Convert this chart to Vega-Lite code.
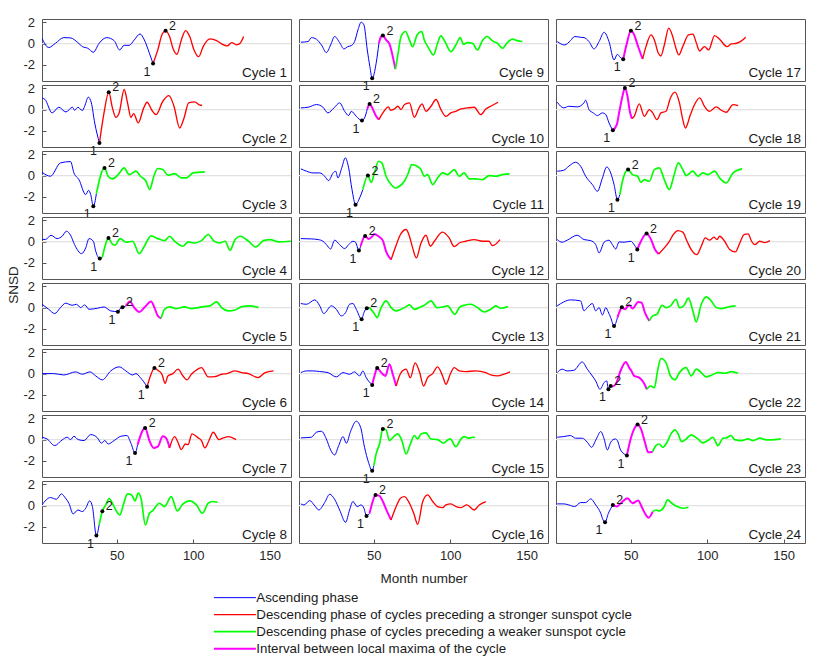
{
"$schema": "https://vega.github.io/schema/vega-lite/v6.json",
"background": "white",
"bounds": "flush",
"padding": {"left": 6, "top": 16, "right": 5, "bottom": 5},
"data": {"values": [
{"c":1,"s":"A","m":1,"v":0.5},{"c":1,"s":"A","m":5.4,"v":-0.37},{"c":1,"s":"A","m":9.8,"v":0.03},{"c":1,"s":"A","m":15.3,"v":0.56},{"c":1,"s":"A","m":19.7,"v":0.53},{"c":1,"s":"A","m":24.5,"v":0.09},{"c":1,"s":"A","m":27.4,"v":-0.28},{"c":1,"s":"A","m":31,"v":-0.44},{"c":1,"s":"A","m":34.6,"v":-0.81},{"c":1,"s":"A","m":38.4,"v":0.03},{"c":1,"s":"A","m":43.4,"v":0.56},{"c":1,"s":"A","m":48.2,"v":0.28},{"c":1,"s":"A","m":51.8,"v":-0.59},{"c":1,"s":"A","m":54.8,"v":-0.16},{"c":1,"s":"A","m":58.1,"v":-0.16},{"c":1,"s":"A","m":61.4,"v":0.34},{"c":1,"s":"A","m":65.2,"v":0.9},{"c":1,"s":"A","m":68,"v":0.34},{"c":1,"s":"A","m":71.3,"v":-0.9},{"c":1,"s":"A","m":73.7,"v":-1.87},
{"c":1,"s":"R","m":73.7,"v":-1.87},{"c":1,"s":"R","m":76.8,"v":-0.59},{"c":1,"s":"R","m":79.7,"v":0.9},{"c":1,"s":"R","m":81.9,"v":1.19},{"c":1,"s":"R","m":84.5,"v":0.66},{"c":1,"s":"R","m":86.7,"v":-0.44},{"c":1,"s":"R","m":89.3,"v":-1},{"c":1,"s":"R","m":92.2,"v":0.34},{"c":1,"s":"R","m":95,"v":1.22},{"c":1,"s":"R","m":97.7,"v":0.66},{"c":1,"s":"R","m":100.5,"v":-0.59},{"c":1,"s":"R","m":103.6,"v":-1.22},{"c":1,"s":"R","m":106.5,"v":-0.28},{"c":1,"s":"R","m":110.9,"v":0.44},{"c":1,"s":"R","m":115.3,"v":0.28},{"c":1,"s":"R","m":118.6,"v":-0.03},{"c":1,"s":"R","m":122.3,"v":-0.22},{"c":1,"s":"R","m":125.2,"v":0.09},{"c":1,"s":"R","m":128.5,"v":-0.12},{"c":1,"s":"R","m":130.7,"v":0.03},{"c":1,"s":"R","m":133,"v":0.66},
{"c":1,"s":"P","n":1,"m":73.7,"v":-1.87},{"c":1,"s":"P","n":2,"m":81.9,"v":1.19},
{"c":2,"s":"A","m":1,"v":1.09},{"c":2,"s":"A","m":3,"v":0.94},{"c":2,"s":"A","m":7.6,"v":-0.31},{"c":2,"s":"A","m":12,"v":0.22},{"c":2,"s":"A","m":16.6,"v":-0.22},{"c":2,"s":"A","m":21,"v":0.22},{"c":2,"s":"A","m":22.3,"v":-0.06},{"c":2,"s":"A","m":24.5,"v":0.22},{"c":2,"s":"A","m":27.4,"v":-0.09},{"c":2,"s":"A","m":28.9,"v":0.31},{"c":2,"s":"A","m":31.3,"v":1.16},{"c":2,"s":"A","m":33.3,"v":0.63},{"c":2,"s":"A","m":35.5,"v":-1.25},{"c":2,"s":"A","m":38.6,"v":-3.13},
{"c":2,"s":"R","m":38.6,"v":-3.13},{"c":2,"s":"R","m":41.6,"v":-0.31},{"c":2,"s":"R","m":44.7,"v":1.63},{"c":2,"s":"R","m":47.1,"v":0.16},{"c":2,"s":"R","m":49.3,"v":-0.72},{"c":2,"s":"R","m":51.5,"v":-0.31},{"c":2,"s":"R","m":54.8,"v":1.88},{"c":2,"s":"R","m":57,"v":0.63},{"c":2,"s":"R","m":59.2,"v":-0.72},{"c":2,"s":"R","m":61,"v":-0.38},{"c":2,"s":"R","m":64,"v":-1.25},{"c":2,"s":"R","m":67.6,"v":0.16},{"c":2,"s":"R","m":69.8,"v":0.69},{"c":2,"s":"R","m":72.9,"v":-0.06},{"c":2,"s":"R","m":75.7,"v":-0.47},{"c":2,"s":"R","m":80.1,"v":0.78},{"c":2,"s":"R","m":84.1,"v":1.31},{"c":2,"s":"R","m":87.4,"v":0.31},{"c":2,"s":"R","m":91.1,"v":-1.72},{"c":2,"s":"R","m":94,"v":-0.78},{"c":2,"s":"R","m":97,"v":0.63},{"c":2,"s":"R","m":101,"v":0.72},{"c":2,"s":"R","m":103.6,"v":0.47},{"c":2,"s":"R","m":105.8,"v":0.38},
{"c":2,"s":"P","n":1,"m":38.6,"v":-3.13},{"c":2,"s":"P","n":2,"m":44.7,"v":1.63},
{"c":3,"s":"A","m":1,"v":0.31},{"c":3,"s":"A","m":6.5,"v":-0.06},{"c":3,"s":"A","m":13.1,"v":1.19},{"c":3,"s":"A","m":19.7,"v":1.31},{"c":3,"s":"A","m":21.9,"v":0.25},{"c":3,"s":"A","m":25.2,"v":-0.38},{"c":3,"s":"A","m":29.6,"v":-1.78},{"c":3,"s":"A","m":31.5,"v":-1.38},{"c":3,"s":"A","m":32.9,"v":-1.78},{"c":3,"s":"A","m":34.6,"v":-2.88},{"c":3,"s":"A","m":36.6,"v":-1.69},
{"c":3,"s":"G","m":36.6,"v":-1.69},{"c":3,"s":"G","m":41.9,"v":0.72},{"c":3,"s":"G","m":44.3,"v":-0.06},{"c":3,"s":"G","m":47.1,"v":-0.31},{"c":3,"s":"G","m":50.9,"v":0.09},{"c":3,"s":"G","m":54.8,"v":0.72},{"c":3,"s":"G","m":58.1,"v":0.09},{"c":3,"s":"G","m":62.5,"v":0.41},{"c":3,"s":"G","m":65.4,"v":-0.06},{"c":3,"s":"G","m":69.1,"v":-0.53},{"c":3,"s":"G","m":71.5,"v":-1.31},{"c":3,"s":"G","m":74.2,"v":-0.06},{"c":3,"s":"G","m":76.8,"v":0.66},{"c":3,"s":"G","m":80.1,"v":0.56},{"c":3,"s":"G","m":83.4,"v":0.03},{"c":3,"s":"G","m":87.8,"v":0.19},{"c":3,"s":"G","m":92.2,"v":-0.22},{"c":3,"s":"G","m":95.5,"v":-0.22},{"c":3,"s":"G","m":99.9,"v":0.25},{"c":3,"s":"G","m":107.6,"v":0.34},
{"c":3,"s":"P","n":1,"m":34.6,"v":-2.88},{"c":3,"s":"P","n":2,"m":41.9,"v":0.72},
{"c":4,"s":"A","m":1,"v":0.22},{"c":4,"s":"A","m":3.2,"v":0.19},{"c":4,"s":"A","m":6.9,"v":0.59},{"c":4,"s":"A","m":10.9,"v":0.28},{"c":4,"s":"A","m":14.2,"v":0.5},{"c":4,"s":"A","m":17,"v":0.97},{"c":4,"s":"A","m":19.7,"v":0.59},{"c":4,"s":"A","m":22.3,"v":-0.28},{"c":4,"s":"A","m":26.9,"v":-1.13},{"c":4,"s":"A","m":29.6,"v":-0.59},{"c":4,"s":"A","m":31.8,"v":0.28},{"c":4,"s":"A","m":34.6,"v":0.03},{"c":4,"s":"A","m":36.2,"v":-0.91},{"c":4,"s":"A","m":38.8,"v":-1.59},{"c":4,"s":"A","m":40.5,"v":-1.47},
{"c":4,"s":"G","m":40.5,"v":-1.47},{"c":4,"s":"G","m":42.7,"v":-0.22},{"c":4,"s":"G","m":44.5,"v":0.34},{"c":4,"s":"G","m":46.5,"v":-0.13},{"c":4,"s":"G","m":48.7,"v":-0.34},{"c":4,"s":"G","m":52.2,"v":0.28},{"c":4,"s":"G","m":56,"v":-0.06},{"c":4,"s":"G","m":60.3,"v":0.03},{"c":4,"s":"G","m":64.7,"v":-1.13},{"c":4,"s":"G","m":68,"v":-0.44},{"c":4,"s":"G","m":72.4,"v":0.53},{"c":4,"s":"G","m":76.8,"v":0.28},{"c":4,"s":"G","m":81.2,"v":0.09},{"c":4,"s":"G","m":84.5,"v":0.5},{"c":4,"s":"G","m":87.8,"v":0.03},{"c":4,"s":"G","m":93.3,"v":-0.44},{"c":4,"s":"G","m":96.6,"v":-0.03},{"c":4,"s":"G","m":101,"v":-0.13},{"c":4,"s":"G","m":105.4,"v":0.09},{"c":4,"s":"G","m":109.8,"v":0.66},{"c":4,"s":"G","m":113.7,"v":0.03},{"c":4,"s":"G","m":117.5,"v":-0.13},{"c":4,"s":"G","m":120.8,"v":0.03},{"c":4,"s":"G","m":124.1,"v":-0.81},{"c":4,"s":"G","m":127.4,"v":0.19},{"c":4,"s":"G","m":130.7,"v":0.5},{"c":4,"s":"G","m":136.2,"v":0.03},{"c":4,"s":"G","m":141,"v":-0.5},{"c":4,"s":"G","m":146,"v":0.09},{"c":4,"s":"G","m":150.4,"v":0.19},{"c":4,"s":"G","m":155.9,"v":-0.03},{"c":4,"s":"G","m":164,"v":0.03},
{"c":4,"s":"P","n":1,"m":38.8,"v":-1.59},{"c":4,"s":"P","n":2,"m":44.5,"v":0.34},
{"c":5,"s":"A","m":1,"v":0.31},{"c":5,"s":"A","m":5.4,"v":-0.16},{"c":5,"s":"A","m":9.3,"v":-0.56},{"c":5,"s":"A","m":13.1,"v":0},{"c":5,"s":"A","m":16.4,"v":0.41},{"c":5,"s":"A","m":20.8,"v":0.22},{"c":5,"s":"A","m":23.6,"v":0.31},{"c":5,"s":"A","m":26.3,"v":0},{"c":5,"s":"A","m":28.9,"v":0.25},{"c":5,"s":"A","m":31.8,"v":-0.16},{"c":5,"s":"A","m":37.3,"v":-0.06},{"c":5,"s":"A","m":41.6,"v":0.06},{"c":5,"s":"A","m":46,"v":-0.31},{"c":5,"s":"A","m":50.7,"v":-0.38},{"c":5,"s":"A","m":52.2,"v":-0.09},{"c":5,"s":"A","m":53.7,"v":0.03},{"c":5,"s":"A","m":55.9,"v":0.16},
{"c":5,"s":"M","m":55.9,"v":0.16},{"c":5,"s":"M","m":58.6,"v":0.56},{"c":5,"s":"M","m":61.4,"v":0},{"c":5,"s":"M","m":64.7,"v":-0.41},{"c":5,"s":"M","m":68,"v":0},{"c":5,"s":"M","m":72.4,"v":0.56},{"c":5,"s":"M","m":74.6,"v":0},{"c":5,"s":"M","m":76.8,"v":-0.78},{"c":5,"s":"M","m":79,"v":-1},
{"c":5,"s":"G","m":79,"v":-1},{"c":5,"s":"G","m":81.2,"v":-0.16},{"c":5,"s":"G","m":84.5,"v":0.06},{"c":5,"s":"G","m":88.9,"v":-0.09},{"c":5,"s":"G","m":94.4,"v":0.06},{"c":5,"s":"G","m":98.8,"v":-0.09},{"c":5,"s":"G","m":103.2,"v":0},{"c":5,"s":"G","m":106.5,"v":0.09},{"c":5,"s":"G","m":110.9,"v":0.16},{"c":5,"s":"G","m":115.3,"v":0.53},{"c":5,"s":"G","m":118.6,"v":0},{"c":5,"s":"G","m":123,"v":-0.31},{"c":5,"s":"G","m":127.4,"v":-0.22},{"c":5,"s":"G","m":131.8,"v":0.09},{"c":5,"s":"G","m":137.3,"v":0.16},{"c":5,"s":"G","m":142.7,"v":0},
{"c":5,"s":"P","n":1,"m":50.7,"v":-0.38},{"c":5,"s":"P","n":2,"m":53.7,"v":0.03},
{"c":6,"s":"A","m":1,"v":0},{"c":6,"s":"A","m":8.7,"v":0},{"c":6,"s":"A","m":15.3,"v":-0.13},{"c":6,"s":"A","m":23,"v":0.16},{"c":6,"s":"A","m":27.4,"v":-0.06},{"c":6,"s":"A","m":32.4,"v":0.16},{"c":6,"s":"A","m":36.2,"v":-0.22},{"c":6,"s":"A","m":40.5,"v":-0.59},{"c":6,"s":"A","m":46,"v":0.25},{"c":6,"s":"A","m":51.5,"v":0.63},{"c":6,"s":"A","m":55.9,"v":0.25},{"c":6,"s":"A","m":60.3,"v":-0.13},{"c":6,"s":"A","m":62.5,"v":0},{"c":6,"s":"A","m":65.4,"v":-0.38},{"c":6,"s":"A","m":69.8,"v":-1.22},
{"c":6,"s":"R","m":69.8,"v":-1.22},{"c":6,"s":"R","m":72.4,"v":-0.06},{"c":6,"s":"R","m":74.6,"v":0.53},{"c":6,"s":"R","m":76.8,"v":0.31},{"c":6,"s":"R","m":79.5,"v":-0.06},{"c":6,"s":"R","m":81.6,"v":-0.91},{"c":6,"s":"R","m":83.4,"v":-0.22},{"c":6,"s":"R","m":86.7,"v":0},{"c":6,"s":"R","m":90,"v":0.41},{"c":6,"s":"R","m":93.3,"v":-0.22},{"c":6,"s":"R","m":95.9,"v":-0.59},{"c":6,"s":"R","m":98.8,"v":-0.06},{"c":6,"s":"R","m":102.1,"v":0.34},{"c":6,"s":"R","m":105.4,"v":0.56},{"c":6,"s":"R","m":109.8,"v":-0.31},{"c":6,"s":"R","m":114.2,"v":-0.28},{"c":6,"s":"R","m":118.6,"v":-0.06},{"c":6,"s":"R","m":121.9,"v":0},{"c":6,"s":"R","m":127.4,"v":0.25},{"c":6,"s":"R","m":131.8,"v":0.09},{"c":6,"s":"R","m":136.2,"v":0},{"c":6,"s":"R","m":142.4,"v":-0.38},{"c":6,"s":"R","m":147.1,"v":0.09},{"c":6,"s":"R","m":152.6,"v":0.25},
{"c":6,"s":"P","n":1,"m":69.8,"v":-1.22},{"c":6,"s":"P","n":2,"m":74.6,"v":0.53},
{"c":7,"s":"A","m":1,"v":0.22},{"c":7,"s":"A","m":4.3,"v":0.06},{"c":7,"s":"A","m":9.3,"v":-0.56},{"c":7,"s":"A","m":14.2,"v":-0.03},{"c":7,"s":"A","m":17.5,"v":0.22},{"c":7,"s":"A","m":19.7,"v":0},{"c":7,"s":"A","m":21.9,"v":0.31},{"c":7,"s":"A","m":24.7,"v":0},{"c":7,"s":"A","m":28.5,"v":-0.09},{"c":7,"s":"A","m":32.9,"v":0.47},{"c":7,"s":"A","m":37.3,"v":0.16},{"c":7,"s":"A","m":39.9,"v":-0.34},{"c":7,"s":"A","m":42.1,"v":-0.09},{"c":7,"s":"A","m":44.3,"v":-0.41},{"c":7,"s":"A","m":48.2,"v":-0.09},{"c":7,"s":"A","m":52.6,"v":0.31},{"c":7,"s":"A","m":56.6,"v":0.38},{"c":7,"s":"A","m":59.2,"v":-0.34},{"c":7,"s":"A","m":61.9,"v":-1.25},{"c":7,"s":"A","m":63.6,"v":-0.47},
{"c":7,"s":"M","m":63.6,"v":-0.47},{"c":7,"s":"M","m":68.5,"v":1.09},{"c":7,"s":"M","m":71.3,"v":-0.09},{"c":7,"s":"M","m":74.2,"v":-0.78},{"c":7,"s":"M","m":76.8,"v":-0.66},{"c":7,"s":"M","m":80.1,"v":0.31},{"c":7,"s":"M","m":82.3,"v":0.13},{"c":7,"s":"M","m":84.5,"v":-0.78},
{"c":7,"s":"R","m":84.5,"v":-0.78},{"c":7,"s":"R","m":87.8,"v":0.28},{"c":7,"s":"R","m":90,"v":-0.25},{"c":7,"s":"R","m":92.2,"v":-0.94},{"c":7,"s":"R","m":94.8,"v":-0.41},{"c":7,"s":"R","m":96.6,"v":-0.47},{"c":7,"s":"R","m":99.2,"v":0.53},{"c":7,"s":"R","m":103.2,"v":0.16},{"c":7,"s":"R","m":105.4,"v":-0.09},{"c":7,"s":"R","m":107.6,"v":-0.78},{"c":7,"s":"R","m":110.3,"v":-0.09},{"c":7,"s":"R","m":113.1,"v":0.69},{"c":7,"s":"R","m":116.8,"v":0},{"c":7,"s":"R","m":119.7,"v":0.16},{"c":7,"s":"R","m":123,"v":0.28},{"c":7,"s":"R","m":128,"v":0},
{"c":7,"s":"P","n":1,"m":61.9,"v":-1.25},{"c":7,"s":"P","n":2,"m":68.5,"v":1.09},
{"c":8,"s":"A","m":1,"v":0.06},{"c":8,"s":"A","m":6.5,"v":0.75},{"c":8,"s":"A","m":10.4,"v":0.59},{"c":8,"s":"A","m":13.7,"v":1.09},{"c":8,"s":"A","m":16.4,"v":0.69},{"c":8,"s":"A","m":18.6,"v":0.22},{"c":8,"s":"A","m":21.4,"v":-0.78},{"c":8,"s":"A","m":24.5,"v":-0.41},{"c":8,"s":"A","m":27.4,"v":-0.56},{"c":8,"s":"A","m":29.6,"v":-0.25},{"c":8,"s":"A","m":32.2,"v":0.44},{"c":8,"s":"A","m":34,"v":-0.09},{"c":8,"s":"A","m":36.6,"v":-2.81},{"c":8,"s":"A","m":38.4,"v":-1.81},
{"c":8,"s":"G","m":38.4,"v":-1.81},{"c":8,"s":"G","m":40.5,"v":-0.53},{"c":8,"s":"G","m":42.7,"v":0.06},{"c":8,"s":"G","m":45,"v":0.66},{"c":8,"s":"G","m":47.1,"v":0.22},{"c":8,"s":"G","m":49.3,"v":-0.41},{"c":8,"s":"G","m":52,"v":-0.88},{"c":8,"s":"G","m":54.2,"v":0.06},{"c":8,"s":"G","m":57,"v":1.09},{"c":8,"s":"G","m":59.7,"v":1},{"c":8,"s":"G","m":61.9,"v":0.44},{"c":8,"s":"G","m":64,"v":1.16},{"c":8,"s":"G","m":65.8,"v":0.69},{"c":8,"s":"G","m":68.7,"v":-1.81},{"c":8,"s":"G","m":71.3,"v":-0.72},{"c":8,"s":"G","m":73.5,"v":-0.47},{"c":8,"s":"G","m":77.9,"v":0.22},{"c":8,"s":"G","m":81.2,"v":-0.09},{"c":8,"s":"G","m":85.6,"v":0.84},{"c":8,"s":"G","m":89.6,"v":-0.5},{"c":8,"s":"G","m":93.3,"v":0.16},{"c":8,"s":"G","m":97.7,"v":0.44},{"c":8,"s":"G","m":102.1,"v":0.06},{"c":8,"s":"G","m":106,"v":-0.72},{"c":8,"s":"G","m":109.8,"v":0.22},{"c":8,"s":"G","m":112.4,"v":0.38},{"c":8,"s":"G","m":116,"v":0.31},
{"c":8,"s":"P","n":1,"m":36.6,"v":-2.81},{"c":8,"s":"P","n":2,"m":40.5,"v":-0.53},
{"c":9,"s":"A","m":2.2,"v":0.13},{"c":9,"s":"A","m":7,"v":0.19},{"c":9,"s":"A","m":9.1,"v":0.56},{"c":9,"s":"A","m":12.4,"v":0.41},{"c":9,"s":"A","m":15.7,"v":-0.13},{"c":9,"s":"A","m":18.9,"v":-0.84},{"c":9,"s":"A","m":21.7,"v":-0.13},{"c":9,"s":"A","m":24.3,"v":0.66},{"c":9,"s":"A","m":27.6,"v":0.09},{"c":9,"s":"A","m":30.4,"v":-0.5},{"c":9,"s":"A","m":33,"v":-0.28},{"c":9,"s":"A","m":35.2,"v":-0.19},{"c":9,"s":"A","m":37.4,"v":0.19},{"c":9,"s":"A","m":39.6,"v":1.28},{"c":9,"s":"A","m":41.7,"v":2},{"c":9,"s":"A","m":43.5,"v":1.75},{"c":9,"s":"A","m":45.7,"v":-0.59},{"c":9,"s":"A","m":47.4,"v":-2.16},{"c":9,"s":"A","m":48.9,"v":-3.25},{"c":9,"s":"A","m":51.5,"v":-1.84},{"c":9,"s":"A","m":53.3,"v":0.03},
{"c":9,"s":"M","m":53.3,"v":0.03},{"c":9,"s":"M","m":54.8,"v":0.66},{"c":9,"s":"M","m":55.9,"v":0.75},{"c":9,"s":"M","m":58,"v":0.34},{"c":9,"s":"M","m":60.2,"v":-0.03},{"c":9,"s":"M","m":62.4,"v":-1.22},{"c":9,"s":"M","m":64.1,"v":-2.38},
{"c":9,"s":"G","m":64.1,"v":-2.38},{"c":9,"s":"G","m":65.7,"v":-1.06},{"c":9,"s":"G","m":67.8,"v":0.66},{"c":9,"s":"G","m":70.7,"v":1.13},{"c":9,"s":"G","m":73.3,"v":0.34},{"c":9,"s":"G","m":75.4,"v":-0.28},{"c":9,"s":"G","m":78.3,"v":0.81},{"c":9,"s":"G","m":81.3,"v":1.13},{"c":9,"s":"G","m":83,"v":0.34},{"c":9,"s":"G","m":85.7,"v":-0.38},{"c":9,"s":"G","m":89.1,"v":-1.06},{"c":9,"s":"G","m":91.7,"v":0.03},{"c":9,"s":"G","m":93.9,"v":0.72},{"c":9,"s":"G","m":96.5,"v":0.19},{"c":9,"s":"G","m":100.4,"v":-0.75},{"c":9,"s":"G","m":103.7,"v":-0.13},{"c":9,"s":"G","m":106.5,"v":0.56},{"c":9,"s":"G","m":108.7,"v":-0.06},{"c":9,"s":"G","m":111.3,"v":0.09},{"c":9,"s":"G","m":114.6,"v":0.03},{"c":9,"s":"G","m":117.8,"v":-0.59},{"c":9,"s":"G","m":121.1,"v":0.28},{"c":9,"s":"G","m":124.3,"v":0.66},{"c":9,"s":"G","m":127.6,"v":0.25},{"c":9,"s":"G","m":130.9,"v":0.03},{"c":9,"s":"G","m":134.1,"v":-0.44},{"c":9,"s":"G","m":137.4,"v":0.09},{"c":9,"s":"G","m":140.7,"v":0.41},{"c":9,"s":"G","m":143.9,"v":0.28},{"c":9,"s":"G","m":147.2,"v":0.19},
{"c":9,"s":"P","n":1,"m":48.9,"v":-3.25},{"c":9,"s":"P","n":2,"m":55.9,"v":0.75},
{"c":10,"s":"A","m":2.2,"v":0.16},{"c":10,"s":"A","m":7,"v":0.22},{"c":10,"s":"A","m":12.4,"v":0.47},{"c":10,"s":"A","m":16.7,"v":0.22},{"c":10,"s":"A","m":19.9,"v":-0.31},{"c":10,"s":"A","m":23.9,"v":0.16},{"c":10,"s":"A","m":27.6,"v":0.63},{"c":10,"s":"A","m":30.9,"v":-0.16},{"c":10,"s":"A","m":33.5,"v":-0.56},{"c":10,"s":"A","m":35.2,"v":-0.16},{"c":10,"s":"A","m":38.5,"v":-0.63},{"c":10,"s":"A","m":42.2,"v":-1.03},{"c":10,"s":"A","m":43.9,"v":-0.78},{"c":10,"s":"A","m":45.7,"v":0.06},
{"c":10,"s":"M","m":45.7,"v":0.06},{"c":10,"s":"M","m":47.2,"v":0.53},{"c":10,"s":"M","m":49.3,"v":0.06},{"c":10,"s":"M","m":51.5,"v":-0.63},{"c":10,"s":"M","m":53.3,"v":-0.94},
{"c":10,"s":"R","m":53.3,"v":-0.94},{"c":10,"s":"R","m":55.9,"v":-0.31},{"c":10,"s":"R","m":59.6,"v":0.25},{"c":10,"s":"R","m":60.9,"v":-0.06},{"c":10,"s":"R","m":63.5,"v":0.06},{"c":10,"s":"R","m":65.7,"v":0.31},{"c":10,"s":"R","m":67.8,"v":0},{"c":10,"s":"R","m":70,"v":0.47},{"c":10,"s":"R","m":73.3,"v":0.63},{"c":10,"s":"R","m":76.5,"v":-0.72},{"c":10,"s":"R","m":79.8,"v":0.22},{"c":10,"s":"R","m":81.5,"v":0.53},{"c":10,"s":"R","m":84.1,"v":-0.16},{"c":10,"s":"R","m":87.4,"v":0.31},{"c":10,"s":"R","m":90.7,"v":0.94},{"c":10,"s":"R","m":93.9,"v":0},{"c":10,"s":"R","m":97.2,"v":-0.63},{"c":10,"s":"R","m":100.4,"v":-0.31},{"c":10,"s":"R","m":103.7,"v":-0.16},{"c":10,"s":"R","m":107,"v":0.06},{"c":10,"s":"R","m":111.3,"v":0.16},{"c":10,"s":"R","m":115.7,"v":0.22},{"c":10,"s":"R","m":120,"v":-0.47},{"c":10,"s":"R","m":123.3,"v":0.06},{"c":10,"s":"R","m":126.5,"v":0.31},{"c":10,"s":"R","m":131.3,"v":0.69},
{"c":10,"s":"P","n":1,"m":42.2,"v":-1.03},{"c":10,"s":"P","n":2,"m":47.2,"v":0.53},
{"c":11,"s":"A","m":2.2,"v":0.63},{"c":11,"s":"A","m":5.9,"v":0.41},{"c":11,"s":"A","m":10.2,"v":0.25},{"c":11,"s":"A","m":14.6,"v":0.25},{"c":11,"s":"A","m":17.8,"v":-0.06},{"c":11,"s":"A","m":20.4,"v":-0.47},{"c":11,"s":"A","m":23.3,"v":0.25},{"c":11,"s":"A","m":25,"v":0.41},{"c":11,"s":"A","m":26.5,"v":-0.22},{"c":11,"s":"A","m":29.1,"v":0.78},{"c":11,"s":"A","m":31.3,"v":1.66},{"c":11,"s":"A","m":33.5,"v":0.72},{"c":11,"s":"A","m":35.7,"v":-1.31},{"c":11,"s":"A","m":38,"v":-2.72},{"c":11,"s":"A","m":40.7,"v":-2.09},{"c":11,"s":"A","m":42.8,"v":-1.31},
{"c":11,"s":"G","m":42.8,"v":-1.31},{"c":11,"s":"G","m":46.1,"v":0},{"c":11,"s":"G","m":48.3,"v":-0.63},{"c":11,"s":"G","m":50.4,"v":0.25},{"c":11,"s":"G","m":53,"v":1.34},{"c":11,"s":"G","m":55.2,"v":1.19},{"c":11,"s":"G","m":58,"v":-0.06},{"c":11,"s":"G","m":61.3,"v":-0.84},{"c":11,"s":"G","m":63.9,"v":-1.16},{"c":11,"s":"G","m":66.7,"v":-1},{"c":11,"s":"G","m":70,"v":-0.53},{"c":11,"s":"G","m":72.6,"v":0.25},{"c":11,"s":"G","m":74.8,"v":1.03},{"c":11,"s":"G","m":78.3,"v":0.88},{"c":11,"s":"G","m":80.9,"v":0.56},{"c":11,"s":"G","m":83,"v":-0.06},{"c":11,"s":"G","m":85.2,"v":0.09},{"c":11,"s":"G","m":88.5,"v":-0.84},{"c":11,"s":"G","m":91.7,"v":-0.22},{"c":11,"s":"G","m":95,"v":0.25},{"c":11,"s":"G","m":98.3,"v":0.09},{"c":11,"s":"G","m":102.6,"v":0.56},{"c":11,"s":"G","m":105.9,"v":-0.06},{"c":11,"s":"G","m":109.1,"v":0.25},{"c":11,"s":"G","m":112.4,"v":-0.31},{"c":11,"s":"G","m":116.7,"v":-0.31},{"c":11,"s":"G","m":121.1,"v":-0.38},{"c":11,"s":"G","m":125.4,"v":0},{"c":11,"s":"G","m":129.8,"v":-0.06},{"c":11,"s":"G","m":134.1,"v":0.09},{"c":11,"s":"G","m":138.9,"v":0.16},
{"c":11,"s":"P","n":1,"m":38,"v":-2.72},{"c":11,"s":"P","n":2,"m":46.1,"v":0},
{"c":12,"s":"A","m":2.2,"v":0.28},{"c":12,"s":"A","m":9.1,"v":0.25},{"c":12,"s":"A","m":13.5,"v":0.19},{"c":12,"s":"A","m":16.7,"v":0.03},{"c":12,"s":"A","m":18.9,"v":-0.28},{"c":12,"s":"A","m":21.7,"v":-0.69},{"c":12,"s":"A","m":24.3,"v":0.13},{"c":12,"s":"A","m":27.6,"v":-0.28},{"c":12,"s":"A","m":30.9,"v":-0.66},{"c":12,"s":"A","m":33.5,"v":-0.28},{"c":12,"s":"A","m":36.3,"v":0.03},{"c":12,"s":"A","m":38,"v":-0.06},{"c":12,"s":"A","m":40.2,"v":-0.84},{"c":12,"s":"A","m":41.3,"v":-0.44},
{"c":12,"s":"M","m":41.3,"v":-0.44},{"c":12,"s":"M","m":44.3,"v":0.53},{"c":12,"s":"M","m":46.5,"v":0.25},{"c":12,"s":"M","m":48.7,"v":0.44},{"c":12,"s":"M","m":50.4,"v":0.72},{"c":12,"s":"M","m":53,"v":0.5},{"c":12,"s":"M","m":55.9,"v":0.09},{"c":12,"s":"M","m":58,"v":-0.91},{"c":12,"s":"M","m":61.3,"v":-1.69},
{"c":12,"s":"R","m":61.3,"v":-1.69},{"c":12,"s":"R","m":64.6,"v":-0.34},{"c":12,"s":"R","m":67.4,"v":0.66},{"c":12,"s":"R","m":71.1,"v":1.13},{"c":12,"s":"R","m":73.3,"v":0.5},{"c":12,"s":"R","m":75.4,"v":-0.59},{"c":12,"s":"R","m":77.8,"v":-1.53},{"c":12,"s":"R","m":80.9,"v":-0.13},{"c":12,"s":"R","m":84.1,"v":0.59},{"c":12,"s":"R","m":87,"v":-0.44},{"c":12,"s":"R","m":89.6,"v":0.03},{"c":12,"s":"R","m":95,"v":0.88},{"c":12,"s":"R","m":99.3,"v":0.34},{"c":12,"s":"R","m":102.6,"v":-0.47},{"c":12,"s":"R","m":105.9,"v":-0.13},{"c":12,"s":"R","m":110.2,"v":0.03},{"c":12,"s":"R","m":115.7,"v":0.19},{"c":12,"s":"R","m":121.1,"v":0.03},{"c":12,"s":"R","m":125.4,"v":0.03},{"c":12,"s":"R","m":127.6,"v":-0.38},{"c":12,"s":"R","m":132.6,"v":0.19},
{"c":12,"s":"P","n":1,"m":40.2,"v":-0.84},{"c":12,"s":"P","n":2,"m":44.3,"v":0.53},
{"c":13,"s":"A","m":2.2,"v":0.38},{"c":13,"s":"A","m":5.9,"v":0.31},{"c":13,"s":"A","m":11.3,"v":0.72},{"c":13,"s":"A","m":14.6,"v":0.16},{"c":13,"s":"A","m":17.2,"v":-0.56},{"c":13,"s":"A","m":22.2,"v":0.16},{"c":13,"s":"A","m":25.4,"v":-0.16},{"c":13,"s":"A","m":28.7,"v":-0.78},{"c":13,"s":"A","m":31.5,"v":-0.47},{"c":13,"s":"A","m":34.1,"v":0.31},{"c":13,"s":"A","m":36.3,"v":0.38},{"c":13,"s":"A","m":38.5,"v":-0.16},{"c":13,"s":"A","m":42,"v":-1.09},{"c":13,"s":"A","m":43.5,"v":-0.47},{"c":13,"s":"A","m":45.4,"v":-0.06},{"c":13,"s":"A","m":47.2,"v":0},
{"c":13,"s":"G","m":47.2,"v":0},{"c":13,"s":"G","m":49.8,"v":-0.47},{"c":13,"s":"G","m":52.2,"v":-0.94},{"c":13,"s":"G","m":54.3,"v":-0.16},{"c":13,"s":"G","m":58,"v":0.63},{"c":13,"s":"G","m":61.3,"v":0},{"c":13,"s":"G","m":64.6,"v":-0.31},{"c":13,"s":"G","m":67.8,"v":-0.16},{"c":13,"s":"G","m":71.1,"v":0.09},{"c":13,"s":"G","m":73.3,"v":0.25},{"c":13,"s":"G","m":76.5,"v":-0.16},{"c":13,"s":"G","m":79.8,"v":0},{"c":13,"s":"G","m":83,"v":0.22},{"c":13,"s":"G","m":87.4,"v":0.63},{"c":13,"s":"G","m":91.3,"v":0},{"c":13,"s":"G","m":95,"v":0.06},{"c":13,"s":"G","m":98.3,"v":0.16},{"c":13,"s":"G","m":103,"v":-0.63},{"c":13,"s":"G","m":105.9,"v":0},{"c":13,"s":"G","m":109.1,"v":0.22},{"c":13,"s":"G","m":113.5,"v":0.31},{"c":13,"s":"G","m":117.8,"v":0},{"c":13,"s":"G","m":122.2,"v":-0.41},{"c":13,"s":"G","m":126.5,"v":-0.16},{"c":13,"s":"G","m":129.8,"v":0.16},{"c":13,"s":"G","m":133,"v":-0.06},{"c":13,"s":"G","m":137.8,"v":0.09},
{"c":13,"s":"P","n":1,"m":42,"v":-1.09},{"c":13,"s":"P","n":2,"m":45.4,"v":-0.06},
{"c":14,"s":"A","m":2.2,"v":0.09},{"c":14,"s":"A","m":5.9,"v":0.25},{"c":14,"s":"A","m":10.2,"v":0.25},{"c":14,"s":"A","m":14.6,"v":0.19},{"c":14,"s":"A","m":20,"v":0.09},{"c":14,"s":"A","m":25.4,"v":-0.31},{"c":14,"s":"A","m":29.8,"v":0.09},{"c":14,"s":"A","m":34.1,"v":-0.06},{"c":14,"s":"A","m":37.4,"v":0.16},{"c":14,"s":"A","m":40.7,"v":-0.22},{"c":14,"s":"A","m":42.8,"v":0.25},{"c":14,"s":"A","m":45,"v":-0.38},{"c":14,"s":"A","m":48.9,"v":-1.06},
{"c":14,"s":"M","m":48.9,"v":-1.06},{"c":14,"s":"M","m":50.4,"v":-0.22},{"c":14,"s":"M","m":52.2,"v":0.53},{"c":14,"s":"M","m":54.8,"v":0.09},{"c":14,"s":"M","m":57.6,"v":-0.22},{"c":14,"s":"M","m":60.2,"v":0.88},{"c":14,"s":"M","m":62.4,"v":-0.06},{"c":14,"s":"M","m":64.6,"v":-1.16},
{"c":14,"s":"R","m":64.6,"v":-1.16},{"c":14,"s":"R","m":67.8,"v":0.09},{"c":14,"s":"R","m":71.1,"v":0.41},{"c":14,"s":"R","m":73.9,"v":-0.38},{"c":14,"s":"R","m":77,"v":1},{"c":14,"s":"R","m":79.8,"v":0.19},{"c":14,"s":"R","m":82.6,"v":-1.16},{"c":14,"s":"R","m":85.2,"v":-0.38},{"c":14,"s":"R","m":88.5,"v":0},{"c":14,"s":"R","m":91.7,"v":0.63},{"c":14,"s":"R","m":95,"v":-0.22},{"c":14,"s":"R","m":97.2,"v":-1},{"c":14,"s":"R","m":100,"v":-0.06},{"c":14,"s":"R","m":102.6,"v":0.56},{"c":14,"s":"R","m":105.9,"v":0.25},{"c":14,"s":"R","m":110.2,"v":0.19},{"c":14,"s":"R","m":116.7,"v":0.25},{"c":14,"s":"R","m":123.3,"v":0.09},{"c":14,"s":"R","m":126.5,"v":-0.13},{"c":14,"s":"R","m":130.9,"v":-0.22},{"c":14,"s":"R","m":135.2,"v":-0.06},{"c":14,"s":"R","m":139.1,"v":0.16},
{"c":14,"s":"P","n":1,"m":48.9,"v":-1.06},{"c":14,"s":"P","n":2,"m":52.2,"v":0.53},
{"c":15,"s":"A","m":2.2,"v":0.16},{"c":15,"s":"A","m":9.1,"v":0.22},{"c":15,"s":"A","m":12.4,"v":0.69},{"c":15,"s":"A","m":15.7,"v":0.78},{"c":15,"s":"A","m":18.9,"v":0.06},{"c":15,"s":"A","m":21.7,"v":-0.97},{"c":15,"s":"A","m":24.3,"v":-1.44},{"c":15,"s":"A","m":27,"v":-0.56},{"c":15,"s":"A","m":29.8,"v":0.28},{"c":15,"s":"A","m":32,"v":-0.34},{"c":15,"s":"A","m":34.8,"v":0.78},{"c":15,"s":"A","m":38.5,"v":1.72},{"c":15,"s":"A","m":41.3,"v":1.16},{"c":15,"s":"A","m":43.9,"v":-0.72},{"c":15,"s":"A","m":46.5,"v":-2.13},{"c":15,"s":"A","m":48.9,"v":-2.91},{"c":15,"s":"A","m":50,"v":-2.44},
{"c":15,"s":"G","m":50,"v":-2.44},{"c":15,"s":"G","m":51.5,"v":-1.34},{"c":15,"s":"G","m":53.7,"v":-0.41},{"c":15,"s":"G","m":55.9,"v":1},{"c":15,"s":"G","m":58,"v":0.91},{"c":15,"s":"G","m":60.2,"v":-0.09},{"c":15,"s":"G","m":63,"v":0.28},{"c":15,"s":"G","m":65.7,"v":0.53},{"c":15,"s":"G","m":68.3,"v":-0.09},{"c":15,"s":"G","m":71.1,"v":-1.34},{"c":15,"s":"G","m":73.9,"v":-0.41},{"c":15,"s":"G","m":76.5,"v":0.38},{"c":15,"s":"G","m":78.7,"v":0.06},{"c":15,"s":"G","m":80.9,"v":0.53},{"c":15,"s":"G","m":84.1,"v":0.63},{"c":15,"s":"G","m":87.4,"v":0.06},{"c":15,"s":"G","m":91.7,"v":0},{"c":15,"s":"G","m":95.7,"v":-0.34},{"c":15,"s":"G","m":98.3,"v":-0.03},{"c":15,"s":"G","m":100,"v":0.06},{"c":15,"s":"G","m":103.7,"v":-0.66},{"c":15,"s":"G","m":107,"v":0.06},{"c":15,"s":"G","m":109.1,"v":0.28},{"c":15,"s":"G","m":112.4,"v":0.13},{"c":15,"s":"G","m":114.6,"v":0.22},{"c":15,"s":"G","m":116.3,"v":0.19},
{"c":15,"s":"P","n":1,"m":48.9,"v":-2.91},{"c":15,"s":"P","n":2,"m":55.9,"v":1},
{"c":16,"s":"A","m":2.2,"v":0.16},{"c":16,"s":"A","m":4.3,"v":0.06},{"c":16,"s":"A","m":8,"v":0.47},{"c":16,"s":"A","m":10.9,"v":0.06},{"c":16,"s":"A","m":14,"v":-0.41},{"c":16,"s":"A","m":17.8,"v":0.28},{"c":16,"s":"A","m":21.1,"v":1.06},{"c":16,"s":"A","m":24.3,"v":0.59},{"c":16,"s":"A","m":27.6,"v":-0.41},{"c":16,"s":"A","m":31.5,"v":-1.56},{"c":16,"s":"A","m":34.1,"v":-0.41},{"c":16,"s":"A","m":36.3,"v":0.38},{"c":16,"s":"A","m":39.1,"v":-0.09},{"c":16,"s":"A","m":41.7,"v":0.06},{"c":16,"s":"A","m":43.5,"v":-0.25},{"c":16,"s":"A","m":45.2,"v":-0.97},{"c":16,"s":"A","m":47.2,"v":-0.72},
{"c":16,"s":"M","m":47.2,"v":-0.72},{"c":16,"s":"M","m":48.9,"v":0.22},{"c":16,"s":"M","m":51.1,"v":1},{"c":16,"s":"M","m":53.7,"v":0.91},{"c":16,"s":"M","m":55.9,"v":0.38},{"c":16,"s":"M","m":58.7,"v":-0.56},{"c":16,"s":"M","m":61.3,"v":-1.34},
{"c":16,"s":"R","m":61.3,"v":-1.34},{"c":16,"s":"R","m":64.6,"v":-0.09},{"c":16,"s":"R","m":67.4,"v":0.69},{"c":16,"s":"R","m":70,"v":0.84},{"c":16,"s":"R","m":73.3,"v":0.22},{"c":16,"s":"R","m":76.1,"v":-0.72},{"c":16,"s":"R","m":78.7,"v":-1.75},{"c":16,"s":"R","m":82,"v":0.38},{"c":16,"s":"R","m":85.2,"v":1},{"c":16,"s":"R","m":88.5,"v":0.38},{"c":16,"s":"R","m":91.7,"v":-0.09},{"c":16,"s":"R","m":95,"v":-0.19},{"c":16,"s":"R","m":97.2,"v":0.06},{"c":16,"s":"R","m":100.4,"v":0.16},{"c":16,"s":"R","m":103.7,"v":-0.09},{"c":16,"s":"R","m":107,"v":-0.19},{"c":16,"s":"R","m":110.9,"v":0.06},{"c":16,"s":"R","m":115.7,"v":-0.41},{"c":16,"s":"R","m":119,"v":0.06},{"c":16,"s":"R","m":123.3,"v":0.38},
{"c":16,"s":"P","n":1,"m":45.2,"v":-0.97},{"c":16,"s":"P","n":2,"m":51.1,"v":1},
{"c":17,"s":"A","m":1.8,"v":0.19},{"c":17,"s":"A","m":6.6,"v":-0.13},{"c":17,"s":"A","m":10.5,"v":0.28},{"c":17,"s":"A","m":13.2,"v":0.66},{"c":17,"s":"A","m":17.1,"v":0.59},{"c":17,"s":"A","m":19.3,"v":0.56},{"c":17,"s":"A","m":22.6,"v":0.19},{"c":17,"s":"A","m":25.9,"v":-0.5},{"c":17,"s":"A","m":29.2,"v":0.19},{"c":17,"s":"A","m":32.5,"v":1.06},{"c":17,"s":"A","m":35.7,"v":0.19},{"c":17,"s":"A","m":39,"v":-1.53},{"c":17,"s":"A","m":41.2,"v":-1},{"c":17,"s":"A","m":43,"v":-1.28},{"c":17,"s":"A","m":45,"v":-1.47},
{"c":17,"s":"M","m":45,"v":-1.47},{"c":17,"s":"M","m":47.4,"v":0.03},{"c":17,"s":"M","m":50,"v":1.19},{"c":17,"s":"M","m":52.2,"v":0.81},{"c":17,"s":"M","m":54.4,"v":-0.13},{"c":17,"s":"M","m":57.7,"v":-1.44},
{"c":17,"s":"R","m":57.7,"v":-1.44},{"c":17,"s":"R","m":59.9,"v":-0.28},{"c":17,"s":"R","m":63.2,"v":0.81},{"c":17,"s":"R","m":65.4,"v":0.34},{"c":17,"s":"R","m":68,"v":-0.91},{"c":17,"s":"R","m":69.7,"v":-1.16},{"c":17,"s":"R","m":71.9,"v":-0.13},{"c":17,"s":"R","m":74.8,"v":1.44},{"c":17,"s":"R","m":77.4,"v":0.66},{"c":17,"s":"R","m":79.2,"v":-0.28},{"c":17,"s":"R","m":81.4,"v":-1.06},{"c":17,"s":"R","m":84,"v":-0.28},{"c":17,"s":"R","m":87.7,"v":0.81},{"c":17,"s":"R","m":90.6,"v":0.88},{"c":17,"s":"R","m":92.8,"v":0.09},{"c":17,"s":"R","m":95,"v":-0.69},{"c":17,"s":"R","m":98.2,"v":-0.28},{"c":17,"s":"R","m":100.9,"v":-0.59},{"c":17,"s":"R","m":104.8,"v":0.75},{"c":17,"s":"R","m":108.1,"v":0.41},{"c":17,"s":"R","m":112.9,"v":-0.28},{"c":17,"s":"R","m":115.8,"v":-0.03},{"c":17,"s":"R","m":119.1,"v":0.03},{"c":17,"s":"R","m":122.4,"v":0.25},{"c":17,"s":"R","m":125.2,"v":0.59},
{"c":17,"s":"P","n":1,"m":45,"v":-1.47},{"c":17,"s":"P","n":2,"m":50,"v":1.19},
{"c":18,"s":"A","m":1.8,"v":0.69},{"c":18,"s":"A","m":6.1,"v":0.16},{"c":18,"s":"A","m":9.4,"v":0.31},{"c":18,"s":"A","m":14.9,"v":0.25},{"c":18,"s":"A","m":19.3,"v":0.63},{"c":18,"s":"A","m":20.4,"v":0.88},{"c":18,"s":"A","m":22.6,"v":0},{"c":18,"s":"A","m":25.4,"v":-0.31},{"c":18,"s":"A","m":28.1,"v":-0.56},{"c":18,"s":"A","m":31.4,"v":-0.31},{"c":18,"s":"A","m":33.6,"v":-0.47},{"c":18,"s":"A","m":35.7,"v":-1.25},{"c":18,"s":"A","m":38.2,"v":-1.94},
{"c":18,"s":"M","m":38.2,"v":-1.94},{"c":18,"s":"M","m":40.8,"v":-1.41},{"c":18,"s":"M","m":42.3,"v":-0.31},{"c":18,"s":"M","m":44.5,"v":1.25},{"c":18,"s":"M","m":46.1,"v":2.03},{"c":18,"s":"M","m":47.8,"v":1.25},{"c":18,"s":"M","m":49.3,"v":-0.16},{"c":18,"s":"M","m":50.7,"v":-0.84},
{"c":18,"s":"R","m":50.7,"v":-0.84},{"c":18,"s":"R","m":52.2,"v":-0.63},{"c":18,"s":"R","m":55.5,"v":0.53},{"c":18,"s":"R","m":58.8,"v":-0.63},{"c":18,"s":"R","m":62.1,"v":0},{"c":18,"s":"R","m":64.3,"v":-0.31},{"c":18,"s":"R","m":67.1,"v":-0.94},{"c":18,"s":"R","m":69.7,"v":-0.31},{"c":18,"s":"R","m":73,"v":-0.16},{"c":18,"s":"R","m":75.9,"v":1.09},{"c":18,"s":"R","m":78.9,"v":1.63},{"c":18,"s":"R","m":81.8,"v":0.63},{"c":18,"s":"R","m":84,"v":-0.94},{"c":18,"s":"R","m":85.7,"v":-1.72},{"c":18,"s":"R","m":89,"v":-0.47},{"c":18,"s":"R","m":91.7,"v":0.47},{"c":18,"s":"R","m":95,"v":1.09},{"c":18,"s":"R","m":98.2,"v":0.31},{"c":18,"s":"R","m":101.5,"v":-0.16},{"c":18,"s":"R","m":105.9,"v":0.25},{"c":18,"s":"R","m":109.2,"v":-0.06},{"c":18,"s":"R","m":112.5,"v":-0.25},{"c":18,"s":"R","m":116.9,"v":0.47},{"c":18,"s":"R","m":120.2,"v":0.38},
{"c":18,"s":"P","n":1,"m":38.2,"v":-1.94},{"c":18,"s":"P","n":2,"m":46.1,"v":2.03},
{"c":19,"s":"A","m":1.8,"v":0.41},{"c":19,"s":"A","m":6.1,"v":0.5},{"c":19,"s":"A","m":9.4,"v":0.88},{"c":19,"s":"A","m":13.8,"v":1.25},{"c":19,"s":"A","m":17.1,"v":0.88},{"c":19,"s":"A","m":20.4,"v":-0.06},{"c":19,"s":"A","m":24.8,"v":-0.84},{"c":19,"s":"A","m":28.1,"v":-1.47},{"c":19,"s":"A","m":31.4,"v":-0.22},{"c":19,"s":"A","m":34.2,"v":0.81},{"c":19,"s":"A","m":36.8,"v":0.25},{"c":19,"s":"A","m":39,"v":-0.84},{"c":19,"s":"A","m":41.2,"v":-2.25},{"c":19,"s":"A","m":42.8,"v":-1.78},
{"c":19,"s":"G","m":42.8,"v":-1.78},{"c":19,"s":"G","m":44.5,"v":-0.53},{"c":19,"s":"G","m":48.2,"v":0.56},{"c":19,"s":"G","m":51.1,"v":0.09},{"c":19,"s":"G","m":54.4,"v":-0.06},{"c":19,"s":"G","m":56.6,"v":-0.63},{"c":19,"s":"G","m":58.8,"v":-0.38},{"c":19,"s":"G","m":62.1,"v":-0.53},{"c":19,"s":"G","m":65.4,"v":0.56},{"c":19,"s":"G","m":68.6,"v":0.72},{"c":19,"s":"G","m":71.9,"v":-0.38},{"c":19,"s":"G","m":75.2,"v":-1.31},{"c":19,"s":"G","m":78.1,"v":-0.06},{"c":19,"s":"G","m":81.1,"v":1.19},{"c":19,"s":"G","m":84,"v":0.56},{"c":19,"s":"G","m":86.2,"v":0},{"c":19,"s":"G","m":90.6,"v":0.41},{"c":19,"s":"G","m":93.9,"v":-0.06},{"c":19,"s":"G","m":97.1,"v":0.25},{"c":19,"s":"G","m":100.4,"v":0.09},{"c":19,"s":"G","m":104.8,"v":0.41},{"c":19,"s":"G","m":108.1,"v":-0.22},{"c":19,"s":"G","m":112.5,"v":-0.69},{"c":19,"s":"G","m":116.9,"v":0.25},{"c":19,"s":"G","m":122.8,"v":0.63},
{"c":19,"s":"P","n":1,"m":41.2,"v":-2.25},{"c":19,"s":"P","n":2,"m":48.2,"v":0.56},
{"c":20,"s":"A","m":1.8,"v":0.19},{"c":20,"s":"A","m":5,"v":-0.06},{"c":20,"s":"A","m":8.3,"v":0.13},{"c":20,"s":"A","m":14.9,"v":0.59},{"c":20,"s":"A","m":19.3,"v":0.19},{"c":20,"s":"A","m":23.7,"v":0.09},{"c":20,"s":"A","m":27,"v":-0.28},{"c":20,"s":"A","m":29.2,"v":-1.06},{"c":20,"s":"A","m":32.5,"v":-0.06},{"c":20,"s":"A","m":35.7,"v":0.13},{"c":20,"s":"A","m":37.9,"v":-0.28},{"c":20,"s":"A","m":40.1,"v":-0.69},{"c":20,"s":"A","m":42.3,"v":-0.03},{"c":20,"s":"A","m":45.6,"v":-0.06},{"c":20,"s":"A","m":50,"v":0.03},{"c":20,"s":"A","m":51.8,"v":-0.22},{"c":20,"s":"A","m":54.2,"v":-0.75},
{"c":20,"s":"M","m":54.2,"v":-0.75},{"c":20,"s":"M","m":56.6,"v":0.03},{"c":20,"s":"M","m":60.3,"v":0.75},{"c":20,"s":"M","m":63.2,"v":0.19},{"c":20,"s":"M","m":65.8,"v":-0.75},{"c":20,"s":"M","m":68.2,"v":-1.16},
{"c":20,"s":"R","m":68.2,"v":-1.16},{"c":20,"s":"R","m":71.9,"v":-0.59},{"c":20,"s":"R","m":75.2,"v":0.03},{"c":20,"s":"R","m":78.1,"v":0.72},{"c":20,"s":"R","m":80.7,"v":1.03},{"c":20,"s":"R","m":84,"v":0.88},{"c":20,"s":"R","m":86.8,"v":0.03},{"c":20,"s":"R","m":89.5,"v":-0.75},{"c":20,"s":"R","m":93.2,"v":-1.22},{"c":20,"s":"R","m":96.1,"v":-0.44},{"c":20,"s":"R","m":98.7,"v":0.34},{"c":20,"s":"R","m":101.5,"v":0.13},{"c":20,"s":"R","m":104.4,"v":0.41},{"c":20,"s":"R","m":106.4,"v":0.19},{"c":20,"s":"R","m":108.1,"v":0.5},{"c":20,"s":"R","m":111.4,"v":0.03},{"c":20,"s":"R","m":114.7,"v":-0.75},{"c":20,"s":"R","m":118.4,"v":-0.97},{"c":20,"s":"R","m":121.3,"v":-0.13},{"c":20,"s":"R","m":124.1,"v":0.66},{"c":20,"s":"R","m":126.8,"v":0.72},{"c":20,"s":"R","m":129,"v":0.03},{"c":20,"s":"R","m":131.1,"v":-0.28},{"c":20,"s":"R","m":134.4,"v":0.03},{"c":20,"s":"R","m":137.7,"v":-0.09},{"c":20,"s":"R","m":141,"v":0.09},
{"c":20,"s":"P","n":1,"m":54.2,"v":-0.75},{"c":20,"s":"P","n":2,"m":60.3,"v":0.75},
{"c":21,"s":"A","m":1.8,"v":0.16},{"c":21,"s":"A","m":6.1,"v":0.53},{"c":21,"s":"A","m":10.5,"v":0.72},{"c":21,"s":"A","m":17.1,"v":0.63},{"c":21,"s":"A","m":19.3,"v":-0.31},{"c":21,"s":"A","m":21.5,"v":0},{"c":21,"s":"A","m":24.8,"v":0.38},{"c":21,"s":"A","m":27,"v":-0.31},{"c":21,"s":"A","m":29.2,"v":0},{"c":21,"s":"A","m":31.4,"v":-0.69},{"c":21,"s":"A","m":33.6,"v":0},{"c":21,"s":"A","m":35.1,"v":-0.38},{"c":21,"s":"A","m":36.8,"v":-0.94},{"c":21,"s":"A","m":39,"v":-1.72},{"c":21,"s":"A","m":41.2,"v":-0.94},
{"c":21,"s":"M","m":41.2,"v":-0.94},{"c":21,"s":"M","m":42.8,"v":-0.31},{"c":21,"s":"M","m":44.1,"v":0.03},{"c":21,"s":"M","m":46.1,"v":-0.16},{"c":21,"s":"M","m":48.9,"v":0.25},{"c":21,"s":"M","m":51.1,"v":-0.09},{"c":21,"s":"M","m":54.8,"v":0.53},{"c":21,"s":"M","m":57,"v":0.47},{"c":21,"s":"M","m":59.2,"v":-0.47},{"c":21,"s":"M","m":62.1,"v":-1.25},
{"c":21,"s":"G","m":62.1,"v":-1.25},{"c":21,"s":"G","m":64.3,"v":-0.78},{"c":21,"s":"G","m":67.1,"v":-0.63},{"c":21,"s":"G","m":70.4,"v":0.22},{"c":21,"s":"G","m":73,"v":0},{"c":21,"s":"G","m":75.9,"v":0.16},{"c":21,"s":"G","m":79.6,"v":0.78},{"c":21,"s":"G","m":81.8,"v":0},{"c":21,"s":"G","m":84.6,"v":0.16},{"c":21,"s":"G","m":87.7,"v":0.88},{"c":21,"s":"G","m":90.6,"v":-0.31},{"c":21,"s":"G","m":92.8,"v":-1.34},{"c":21,"s":"G","m":96.1,"v":0.31},{"c":21,"s":"G","m":99.3,"v":1},{"c":21,"s":"G","m":102.6,"v":0.63},{"c":21,"s":"G","m":105.9,"v":0},{"c":21,"s":"G","m":109.2,"v":-0.09},{"c":21,"s":"G","m":113.6,"v":0.06},{"c":21,"s":"G","m":118.6,"v":0.16},
{"c":21,"s":"P","n":1,"m":39,"v":-1.72},{"c":21,"s":"P","n":2,"m":44.1,"v":0.03},
{"c":22,"s":"A","m":1.8,"v":0.09},{"c":22,"s":"A","m":5,"v":0.41},{"c":22,"s":"A","m":8.3,"v":0.25},{"c":22,"s":"A","m":12.7,"v":0.31},{"c":22,"s":"A","m":18.2,"v":1.09},{"c":22,"s":"A","m":21.5,"v":0.41},{"c":22,"s":"A","m":24.8,"v":-0.22},{"c":22,"s":"A","m":27,"v":-0.69},{"c":22,"s":"A","m":29.8,"v":-1.47},{"c":22,"s":"A","m":32.5,"v":-0.84},{"c":22,"s":"A","m":34.2,"v":-0.69},{"c":22,"s":"A","m":35.3,"v":-1.47},{"c":22,"s":"A","m":36.8,"v":-1.16},{"c":22,"s":"A","m":37.9,"v":-1.22},
{"c":22,"s":"M","m":37.9,"v":-1.22},{"c":22,"s":"M","m":40.1,"v":-1},{"c":22,"s":"M","m":43.4,"v":0.31},{"c":22,"s":"M","m":46.7,"v":1.09},{"c":22,"s":"M","m":48.9,"v":0.56},{"c":22,"s":"M","m":50.4,"v":0.25},{"c":22,"s":"M","m":52.2,"v":-0.22},{"c":22,"s":"M","m":55.5,"v":-0.38},{"c":22,"s":"M","m":58.3,"v":-0.84},{"c":22,"s":"M","m":60.5,"v":-1.47},
{"c":22,"s":"G","m":60.5,"v":-1.47},{"c":22,"s":"G","m":62.7,"v":-1.16},{"c":22,"s":"G","m":65.4,"v":-1.31},{"c":22,"s":"G","m":67.5,"v":0.25},{"c":22,"s":"G","m":69.7,"v":1.41},{"c":22,"s":"G","m":73,"v":1.03},{"c":22,"s":"G","m":75.9,"v":-0.22},{"c":22,"s":"G","m":78.9,"v":-0.59},{"c":22,"s":"G","m":81.8,"v":0.09},{"c":22,"s":"G","m":86.2,"v":0.56},{"c":22,"s":"G","m":89.5,"v":-0.22},{"c":22,"s":"G","m":92.8,"v":0.41},{"c":22,"s":"G","m":96.1,"v":0.09},{"c":22,"s":"G","m":99.3,"v":-0.31},{"c":22,"s":"G","m":102.6,"v":-0.16},{"c":22,"s":"G","m":107,"v":0.09},{"c":22,"s":"G","m":111.4,"v":0.03},{"c":22,"s":"G","m":115.8,"v":0.19},{"c":22,"s":"G","m":120.2,"v":0.03},
{"c":22,"s":"P","n":1,"m":35.3,"v":-1.47},{"c":22,"s":"P","n":2,"m":36.8,"v":-1.16},
{"c":23,"s":"A","m":1.8,"v":0.22},{"c":23,"s":"A","m":6.1,"v":0.28},{"c":23,"s":"A","m":10.5,"v":0.38},{"c":23,"s":"A","m":13.8,"v":0.13},{"c":23,"s":"A","m":18.2,"v":0.13},{"c":23,"s":"A","m":21.5,"v":-0.25},{"c":23,"s":"A","m":24.3,"v":-0.72},{"c":23,"s":"A","m":27.4,"v":0.06},{"c":23,"s":"A","m":30.3,"v":0.75},{"c":23,"s":"A","m":32.5,"v":0.06},{"c":23,"s":"A","m":34.6,"v":-0.97},{"c":23,"s":"A","m":36.8,"v":-0.25},{"c":23,"s":"A","m":39.7,"v":0.06},{"c":23,"s":"A","m":41.2,"v":-0.09},{"c":23,"s":"A","m":43,"v":-0.88},{"c":23,"s":"A","m":45.6,"v":-1.34},{"c":23,"s":"A","m":47.4,"v":-1.5},
{"c":23,"s":"M","m":47.4,"v":-1.5},{"c":23,"s":"M","m":49.6,"v":-0.09},{"c":23,"s":"M","m":52.2,"v":1},{"c":23,"s":"M","m":54.4,"v":1.41},{"c":23,"s":"M","m":56.6,"v":1},{"c":23,"s":"M","m":59.2,"v":-0.25},{"c":23,"s":"M","m":61.4,"v":-1.19},{"c":23,"s":"M","m":64.3,"v":-1.13},
{"c":23,"s":"G","m":64.3,"v":-1.13},{"c":23,"s":"G","m":66.4,"v":-0.56},{"c":23,"s":"G","m":68.6,"v":-0.41},{"c":23,"s":"G","m":70.8,"v":-0.72},{"c":23,"s":"G","m":73.7,"v":-0.25},{"c":23,"s":"G","m":76.3,"v":0.53},{"c":23,"s":"G","m":78.9,"v":0.91},{"c":23,"s":"G","m":80.7,"v":0.59},{"c":23,"s":"G","m":83.3,"v":-0.19},{"c":23,"s":"G","m":86.2,"v":0.06},{"c":23,"s":"G","m":89.5,"v":0.44},{"c":23,"s":"G","m":93.9,"v":0.06},{"c":23,"s":"G","m":97.1,"v":-0.31},{"c":23,"s":"G","m":100.4,"v":-0.09},{"c":23,"s":"G","m":103.7,"v":0.22},{"c":23,"s":"G","m":107,"v":-0.56},{"c":23,"s":"G","m":110.3,"v":0.13},{"c":23,"s":"G","m":112.5,"v":0.16},{"c":23,"s":"G","m":115.4,"v":0.38},{"c":23,"s":"G","m":118,"v":0},{"c":23,"s":"G","m":122.4,"v":-0.09},{"c":23,"s":"G","m":126.8,"v":0.06},{"c":23,"s":"G","m":130,"v":-0.09},{"c":23,"s":"G","m":134.4,"v":0.13},{"c":23,"s":"G","m":138.8,"v":-0.03},{"c":23,"s":"G","m":144.3,"v":0},{"c":23,"s":"G","m":148.2,"v":0.06},
{"c":23,"s":"P","n":1,"m":47.4,"v":-1.5},{"c":23,"s":"P","n":2,"m":54.4,"v":1.41},
{"c":24,"s":"A","m":1.8,"v":0.16},{"c":24,"s":"A","m":6.1,"v":0.16},{"c":24,"s":"A","m":9.4,"v":0.06},{"c":24,"s":"A","m":13.2,"v":-0.09},{"c":24,"s":"A","m":17.1,"v":0.28},{"c":24,"s":"A","m":20.4,"v":0.28},{"c":24,"s":"A","m":23.7,"v":0.63},{"c":24,"s":"A","m":27,"v":0.06},{"c":24,"s":"A","m":30.3,"v":-0.72},{"c":24,"s":"A","m":31.8,"v":-1.34},{"c":24,"s":"A","m":33.1,"v":-1.56},{"c":24,"s":"A","m":35.3,"v":-0.72},{"c":24,"s":"A","m":38.2,"v":0.06},
{"c":24,"s":"M","m":38.2,"v":0.06},{"c":24,"s":"M","m":40.8,"v":-0.09},{"c":24,"s":"M","m":43.4,"v":0.22},{"c":24,"s":"M","m":47.8,"v":0.69},{"c":24,"s":"M","m":51.1,"v":0.22},{"c":24,"s":"M","m":54.8,"v":0.47},{"c":24,"s":"M","m":57,"v":-0.09},{"c":24,"s":"M","m":59.2,"v":-0.72},{"c":24,"s":"M","m":61.6,"v":-1.13},{"c":24,"s":"M","m":64.3,"v":-0.56},
{"c":24,"s":"G","m":64.3,"v":-0.56},{"c":24,"s":"G","m":66.4,"v":-0.41},{"c":24,"s":"G","m":68.6,"v":-0.5},{"c":24,"s":"G","m":71.9,"v":-0.09},{"c":24,"s":"G","m":74.1,"v":0.53},{"c":24,"s":"G","m":76.8,"v":0.22},{"c":24,"s":"G","m":80.3,"v":-0.09},{"c":24,"s":"G","m":84,"v":-0.25},{"c":24,"s":"G","m":87.7,"v":-0.16},
{"c":24,"s":"P","n":1,"m":33.1,"v":-1.56},{"c":24,"s":"P","n":2,"m":38.2,"v":0.06}
]},
"transform": [
  {"calculate": "(datum.c - 1) % 8", "as": "r"},
  {"calculate": "floor((datum.c - 1) / 8)", "as": "k"}
],
"facet": {
  "row": {"field": "r", "type": "ordinal", "title": "SNSD", "header": {"labels": false, "labelPadding": 0, "titleOrient": "left", "titleFontSize": 13.5, "titleFontWeight": "normal", "titleFont": "Liberation Sans", "titleColor": "#262626", "titlePadding": -10}},
  "column": {"field": "k", "type": "ordinal", "title": "Month number", "header": {"labels": false, "titleOrient": "bottom", "titleFontSize": 13.5, "titleFontWeight": "normal", "titleFont": "Liberation Sans", "titleColor": "#262626", "titlePadding": 0}}
},
"spacing": {"row": 4, "column": 8},
"spec": {
  "width": 249,
  "height": 62,
  "layer": [
    {"transform": [{"filter": "datum.s == 'P' && datum.n == 1"}],
     "mark": {"type": "rule", "color": "#e2e2e2", "strokeWidth": 1.2},
     "encoding": {"y": {"datum": 0, "type": "quantitative", "scale": {"domain": [-3.5, 2.3], "nice": false}, "axis": {"values": [-2, 0, 2], "tickCount": 5, "title": null, "format": "d", "labelExpr": "replace(datum.label, '−', '-')", "labelOverlap": false, "labelFlush": false, "labelBound": false, "minExtent": 22, "maxExtent": 22}}}},
    {"transform": [{"filter": "datum.s != 'P'"}],
     "mark": {"type": "line", "interpolate": "monotone", "clip": true},
     "encoding": {
       "x": {"field": "m", "type": "quantitative", "scale": {"domain": [1, 164], "nice": false, "zero": false}, "axis": {"values": [50, 100, 150], "tickCount": 5, "title": null, "labelOverlap": false}},
       "y": {"field": "v", "type": "quantitative", "scale": {"domain": [-3.5, 2.3], "nice": false}, "axis": {"values": [-2, 0, 2], "tickCount": 5, "title": null, "format": "d", "labelExpr": "replace(datum.label, '−', '-')", "labelOverlap": false, "labelFlush": false, "labelBound": false, "minExtent": 22, "maxExtent": 22}},
       "color": {"field": "s", "type": "nominal", "scale": {"domain": ["A", "R", "G", "M"], "range": ["#0000ff", "#ff0000", "#00ff00", "#ff00ff"]},
         "legend": {"orient": "none", "legendX": 202, "legendY": 572, "direction": "vertical", "title": null,
           "labelExpr": "{'A': 'Ascending phase', 'R': 'Descending phase of cycles preceding a stronger sunspot cycle', 'G': 'Descending phase of cycles preceding a weaker sunspot cycle', 'M': 'Interval between local maxima of the cycle'}[datum.value]",
           "labelFontSize": 13.3, "labelFont": "Liberation Sans", "labelColor": "#1a1a1a", "labelLimit": 600, "symbolType": "M-7,0H1", "symbolSize": 110, "rowPadding": 3, "labelOffset": -1, "padding": 0,
           "encode": {"symbols": {"update": {"strokeWidth": [{"test": "datum.value === 'A'", "value": 1}, {"value": 2}]}}}}},
       "strokeWidth": {"field": "s", "type": "nominal", "scale": {"domain": ["A", "R", "G", "M"], "range": [1, 2, 2, 2]},
         "legend": {"orient": "none", "legendX": 202, "legendY": 572, "direction": "vertical", "title": null,
           "labelExpr": "{'A': 'Ascending phase', 'R': 'Descending phase of cycles preceding a stronger sunspot cycle', 'G': 'Descending phase of cycles preceding a weaker sunspot cycle', 'M': 'Interval between local maxima of the cycle'}[datum.value]",
           "labelFontSize": 13.3, "labelFont": "Liberation Sans", "labelColor": "#1a1a1a", "labelLimit": 600, "symbolType": "M-7,0H1", "symbolSize": 110, "rowPadding": 3, "labelOffset": -1, "padding": 0,
           "encode": {"symbols": {"update": {"strokeWidth": [{"test": "datum.value === 'A'", "value": 1}, {"value": 2}]}}}}}
     }},
    {"transform": [{"filter": "datum.s == 'P'"}],
     "mark": {"type": "circle", "color": "black", "size": 16, "opacity": 1},
     "encoding": {"x": {"field": "m", "type": "quantitative"}, "y": {"field": "v", "type": "quantitative"}}},
    {"transform": [{"filter": "datum.s == 'P' && datum.n == 1"}],
     "mark": {"type": "text", "dx": -6, "dy": 8, "fontSize": 12.5, "font": "Liberation Sans", "color": "#1a1a1a"},
     "encoding": {"x": {"field": "m", "type": "quantitative"}, "y": {"field": "v", "type": "quantitative"}, "text": {"value": "1"}}},
    {"transform": [{"filter": "datum.s == 'P' && datum.n == 2"}],
     "mark": {"type": "text", "dx": 7, "dy": -5, "fontSize": 12.5, "font": "Liberation Sans", "color": "#1a1a1a"},
     "encoding": {"x": {"field": "m", "type": "quantitative"}, "y": {"field": "v", "type": "quantitative"}, "text": {"value": "2"}}},
    {"transform": [{"filter": "datum.s == 'P' && datum.n == 1"}, {"calculate": "'Cycle ' + datum.c", "as": "lab"}],
     "mark": {"type": "text", "align": "right", "baseline": "bottom", "dx": -4, "dy": -1, "fontSize": 13.5, "font": "Liberation Sans", "color": "#1a1a1a"},
     "encoding": {"x": {"datum": 164, "type": "quantitative"}, "y": {"datum": -3.5, "type": "quantitative"}, "text": {"field": "lab"}}}
  ]
},
"config": {
  "font": "Liberation Sans",
  "view": {"stroke": "#555555", "strokeWidth": 1},
  "axis": {"grid": false, "domain": false, "tickSize": -4, "tickColor": "#555555", "tickWidth": 1, "labelColor": "#262626", "labelFontSize": 13, "labelFont": "Liberation Sans", "labelPadding": 11.5, "labelOverlap": false, "labelSeparation": 0},
  "axisY": {"minExtent": 22, "maxExtent": 22},
  "axisX": {"labelPadding": 10}
}
}
